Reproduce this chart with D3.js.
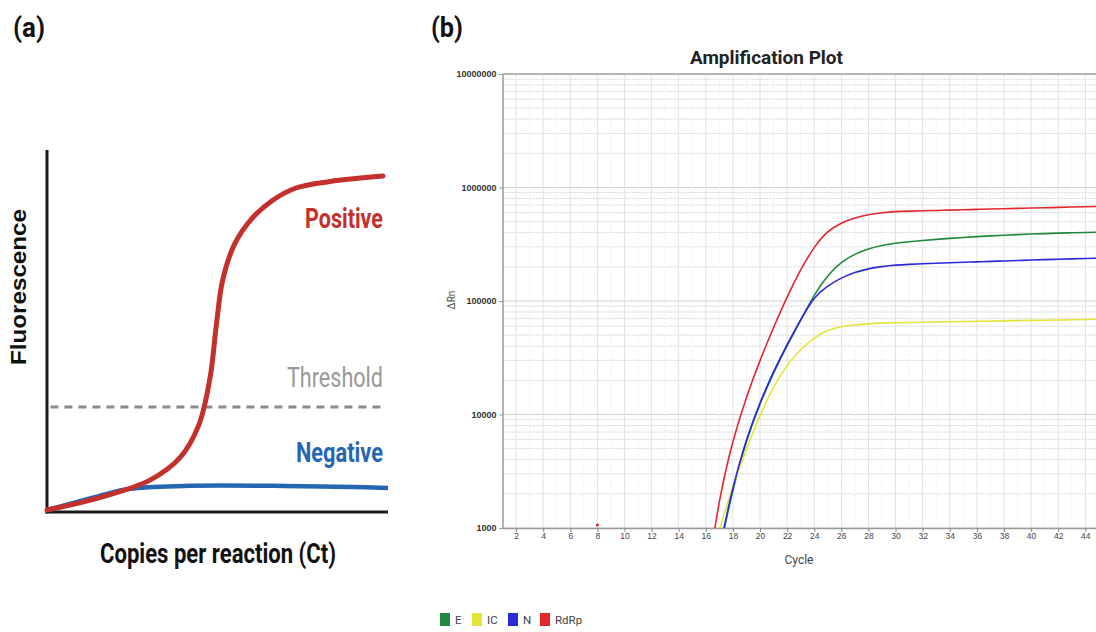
<!DOCTYPE html>
<html>
<head>
<meta charset="utf-8">
<script src="https://cdn.jsdelivr.net/npm/d3@7"></script>
<style>
  body { margin: 0; background: #fff; }
  svg { display: block; }
</style>
</head>
<body>
<div id="chart"></div>
<script>
"use strict";

// ---- panel (a): schematic qPCR curves (arbitrary units) ----
const positiveX = [0, 1.52, 3.02, 3.9, 4.45, 4.78, 4.97, 5.15, 5.5, 6.0, 6.6, 7.3, 8.3, 9.85];
const positiveY = [0.55, 3.9, 8.8, 15, 24, 37, 52, 64, 74, 81, 86, 89.5, 91.3, 92.8];
const negativeX = [0, 1.52, 2.43, 4.0, 7.0, 9.0, 10];
const negativeY = [0.55, 4.4, 6.4, 7.2, 7.2, 6.9, 6.6];
const threshold = 29;

// ---- panel (b): amplification plot ----
const cycles = d3.range(16, 46);
const seriesNames = ["E", "IC", "N", "RdRp"];
const seriesColors = ["#1f8a3e", "#e4e43a", "#2a2ad8", "#e5262b"];
const valuesE = [126, 631, 2240, 6030, 12590, 23440, 40740, 67610, 114800, 169800, 221300, 260000, 288400, 309000, 323600,
  332700, 341200, 349100, 356500, 363100, 369000, 375000, 380200, 384600, 389000, 392600, 396300, 399000, 401800, 403600];
const valuesIC = [316, 1000, 2340, 5010, 10000, 17780, 27540, 37580, 47860, 55590, 59570, 61660, 62950, 63830, 64420,
  64710, 65010, 65310, 65620, 65920, 66220, 66530, 66830, 67140, 67450, 67760, 68080, 68390, 68710, 69180];
const valuesN = [141, 661, 2340, 6170, 12880, 23990, 41690, 68390, 109600, 136500, 160300, 179100, 192800, 201400, 207500,
  210400, 212800, 214800, 217300, 219300, 221300, 223400, 225400, 227500, 229600, 231700, 233300, 235000, 236600, 238200];
const valuesRdRp = [302, 1905, 6030, 14450, 30200, 58880, 109600, 190500, 302000, 416900, 489800, 543300, 578100, 599800, 615200,
  619400, 623700, 628100, 632400, 636800, 641200, 645700, 650100, 654600, 659200, 663700, 668300, 673000, 677600, 680800];
const xTicks = d3.range(2, 46, 2);
const yTicks = [1000, 10000, 100000, 1000000, 10000000];
const markCycles = [8];

const W = 1096, H = 632;
const svg = d3.select("#chart").append("svg")
    .attr("width", W).attr("height", H)
    .style("font-family", "Roboto, 'Liberation Sans', sans-serif");

// condensed-looking bold labels: large size squeezed to the measured width
function label(xp, yp, txt, size, len, opts) {
  const t = svg.append("text").attr("x", xp).attr("y", yp)
      .attr("font-size", size).attr("textLength", len).attr("lengthAdjust", "spacingAndGlyphs")
      .text(txt);
  Object.entries(opts || {}).forEach(([k, v]) => t.attr(k, v));
  return t;
}

// ================= panel (a) =================
const ax = d3.scaleLinear().domain([0, 10]).range([47, 388]);
const ay = d3.scaleLinear().domain([0, 100]).range([512, 150]);

label(13, 37, "(a)", 28, 32, { "font-weight": "bold", fill: "#111" });

svg.append("line").attr("x1", ax(0)).attr("x2", ax(0)).attr("y1", ay(100)).attr("y2", ay(0) + 1.5)
    .attr("stroke", "#1a1a1a").attr("stroke-width", 3);
svg.append("line").attr("x1", ax(0) - 1.5).attr("x2", ax(10)).attr("y1", ay(0)).attr("y2", ay(0))
    .attr("stroke", "#1a1a1a").attr("stroke-width", 3);

svg.append("line").attr("x1", ax(0.1)).attr("x2", ax(9.95)).attr("y1", ay(threshold)).attr("y2", ay(threshold))
    .attr("stroke", "#8a8a8a").attr("stroke-width", 3).attr("stroke-dasharray", "8,6");

const lineA = d3.line().x(d => ax(d[0])).y(d => ay(d[1])).curve(d3.curveCatmullRom.alpha(0.5));
svg.append("path").datum(d3.zip(negativeX, negativeY)).attr("d", lineA)
    .attr("fill", "none").attr("stroke", "#2566b3").attr("stroke-width", 4.5);
svg.append("path").datum(d3.zip(positiveX, positiveY)).attr("d", lineA)
    .attr("fill", "none").attr("stroke", "#c4302b").attr("stroke-width", 5).attr("stroke-linecap", "round");

label(305, 228, "Positive", 28, 78, { "font-weight": "bold", fill: "#c4302b" });
label(287, 387, "Threshold", 28, 96, { fill: "#999" });
label(296, 462, "Negative", 28, 87, { "font-weight": "bold", fill: "#2566b3" });

svg.append("text").attr("transform", "translate(26,287) rotate(-90)").attr("text-anchor", "middle")
    .attr("font-family", "'Liberation Sans', Arial, sans-serif")
    .attr("font-size", 22).attr("font-weight", "bold").attr("fill", "#111")
    .attr("textLength", 156).attr("lengthAdjust", "spacingAndGlyphs").text("Fluorescence");
label(100, 563, "Copies per reaction (Ct)", 27, 236, { "font-weight": "bold", fill: "#111" });

// ================= panel (b) =================
const x = d3.scaleLinear().domain([1, 45.6]).range([502.5, 1107]);
const y = d3.scaleLog().domain([1000, 10000000]).range([528, 74]);

label(431, 37, "(b)", 28, 32, { "font-weight": "bold", fill: "#111" });
label(690, 64, "Amplification Plot", 18, 153, { "font-weight": "bold", fill: "#222" });

const grid = svg.append("g");
// minor horizontal (log 2..9)
const minor = [];
yTicks.slice(0, -1).forEach(t => { for (let k = 2; k < 10; k++) minor.push(t * k); });
grid.selectAll(".hmin").data(minor).join("line")
    .attr("x1", x(1)).attr("x2", W).attr("y1", d => y(d)).attr("y2", d => y(d))
    .attr("stroke", "#d6d6d6").attr("stroke-width", 1).attr("stroke-dasharray", "2,1");
grid.selectAll(".hmaj").data(yTicks).join("line")
    .attr("x1", x(1)).attr("x2", W).attr("y1", d => y(d)).attr("y2", d => y(d))
    .attr("stroke", "#cfcfcf").attr("stroke-width", 1);
grid.selectAll(".vodd").data(d3.range(3, 46, 2)).join("line")
    .attr("x1", d => x(d)).attr("x2", d => x(d)).attr("y1", y(1e7)).attr("y2", y(1e3))
    .attr("stroke", "#eeeeee").attr("stroke-width", 1).attr("stroke-dasharray", "2,2");
grid.selectAll(".vmaj").data(xTicks).join("line")
    .attr("x1", d => x(d)).attr("x2", d => x(d)).attr("y1", y(1e7)).attr("y2", y(1e3))
    .attr("stroke", "#e2e2e2").attr("stroke-width", 1);

// top border
svg.append("line").attr("x1", x(1)).attr("x2", W).attr("y1", y(1e7)).attr("y2", y(1e7))
    .attr("stroke", "#b5b5b5").attr("stroke-width", 2);

// axes
const xAxis = svg.append("g").attr("transform", `translate(0,${y(1000)})`)
    .call(d3.axisBottom(x).tickValues(xTicks).tickSize(4).tickSizeOuter(0));
xAxis.select(".domain").attr("stroke", "#9a9a9a").attr("stroke-width", 1.5);
xAxis.selectAll(".tick line").attr("stroke", "#888");
xAxis.selectAll(".tick text").attr("font-size", 8.5).attr("fill", "#444").attr("dy", "0.5em");

const yAxis = svg.append("g").attr("transform", `translate(${x(1)},0)`)
    .call(d3.axisLeft(y).tickValues(yTicks).tickFormat(d3.format("d")).tickSize(3).tickSizeOuter(0));
yAxis.select(".domain").attr("stroke", "#9a9a9a").attr("stroke-width", 1.5);
yAxis.selectAll(".tick line").attr("stroke", "#888");
yAxis.selectAll(".tick text").attr("font-size", 9).attr("font-weight", "bold")
    .attr("font-family", "'Liberation Sans Narrow', 'Liberation Sans', sans-serif").attr("fill", "#333");

svg.append("text").attr("x", 799).attr("y", 564).attr("text-anchor", "middle")
    .attr("font-size", 12).attr("fill", "#444").text("Cycle");
svg.append("text").attr("transform", "translate(455,300) rotate(-90)").attr("text-anchor", "middle")
    .attr("font-size", 10).attr("fill", "#444").text("ΔRn");

// curves
svg.append("defs").append("clipPath").attr("id", "plotclip").append("rect")
    .attr("x", x(1)).attr("y", y(1e7)).attr("width", W - x(1)).attr("height", y(1e3) - y(1e7));

const seriesValues = [valuesE, valuesIC, valuesN, valuesRdRp];
const lineB = d3.line().x(d => x(d[0])).y(d => y(d[1])).curve(d3.curveBasis);
const curves = svg.append("g").attr("clip-path", "url(#plotclip)");
seriesValues.forEach((vals, i) => {
  curves.append("path").datum(d3.zip(cycles, vals)).attr("d", lineB)
      .attr("fill", "none").attr("stroke", seriesColors[i]).attr("stroke-width", 1.6);
});

svg.selectAll(".mark").data(markCycles).join("circle")
    .attr("cx", d => x(d)).attr("cy", y(1000) - 3).attr("r", 1.6).attr("fill", "#d22");

// legend
const legX = [440, 472, 508, 540];
const leg = svg.append("g");
seriesNames.forEach((n, i) => {
  leg.append("rect").attr("x", legX[i]).attr("y", 613).attr("width", 10).attr("height", 13)
      .attr("fill", seriesColors[i]);
  leg.append("text").attr("x", legX[i] + 15).attr("y", 624)
      .attr("font-size", 11.5).attr("fill", "#444").text(n);
});
</script>
</body>
</html>
